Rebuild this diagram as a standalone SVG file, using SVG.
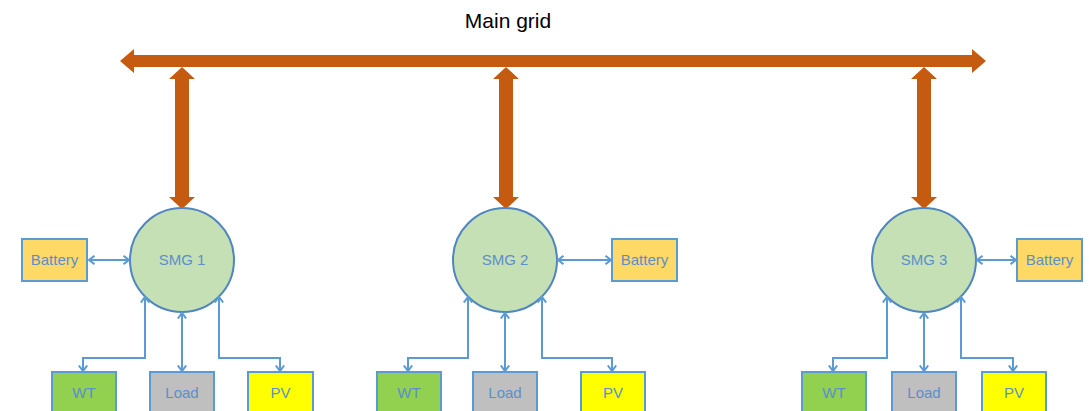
<svg xmlns="http://www.w3.org/2000/svg" width="1089" height="411" viewBox="0 0 1089 411">
<defs>
<marker id="ah" markerWidth="8" markerHeight="10" refX="6" refY="5" orient="auto-start-reverse" markerUnits="userSpaceOnUse">
<path d="M0.5,0.8 L6,5 L0.5,9.2" fill="none" stroke="#5B9BD5" stroke-width="2"/>
</marker>
</defs>
<style>
.grid{fill:#C55A11;}
.smg{fill:#C5E0B4;stroke:#4F86C0;stroke-width:2;}
.box{stroke:#5B9BD5;stroke-width:2;}
.bat{fill:#FFD966;}
.wt{fill:#92D050;}
.load{fill:#BFBFBF;}
.pv{fill:#FFFF00;}
.lbl{font-family:"Liberation Sans",Arial,sans-serif;font-size:15px;fill:#5B8FCA;text-anchor:middle;}
.title{font-family:"Liberation Sans",Arial,sans-serif;font-size:21px;fill:#000;text-anchor:middle;}
.con{fill:none;stroke:#5B9BD5;stroke-width:2;marker-start:url(#ah);marker-end:url(#ah);}
</style>
<rect width="1089" height="411" fill="#fff"/>
<text class="title" x="508" y="28">Main grid</text>
<g id="main-grid">
<polygon class="grid" points="120,61 134,49 134,55 972,55 972,49 986,61 972,73 972,67 134,67 134,73"/>
</g>
<g id="grid-links">
<polygon class="grid" points="182,67 195,79 189,79 189,197 195,197 182,209 169,197 175,197 175,79 169,79"/>
<polygon class="grid" points="506,67 519,79 513,79 513,197 519,197 506,209 493,197 499,197 499,79 493,79"/>
<polygon class="grid" points="924,67 937,79 931,79 931,197 937,197 924,209 911,197 917,197 917,79 911,79"/>
</g>
<g id="smg1">
<circle class="smg" cx="182" cy="260" r="52"/>
<text class="lbl" x="182" y="265">SMG 1</text>
</g>
<g id="smg2">
<circle class="smg" cx="505" cy="260" r="52"/>
<text class="lbl" x="505" y="265">SMG 2</text>
</g>
<g id="smg3">
<circle class="smg" cx="924" cy="260" r="52"/>
<text class="lbl" x="924" y="265">SMG 3</text>
</g>
<g id="battery1"><rect class="box bat" x="22" y="239" width="65" height="42"/><text class="lbl" x="54.5" y="265">Battery</text></g>
<g id="battery2"><rect class="box bat" x="612" y="239" width="65" height="42"/><text class="lbl" x="644.5" y="265">Battery</text></g>
<g id="battery3"><rect class="box bat" x="1017" y="239" width="65" height="42"/><text class="lbl" x="1049.5" y="265">Battery</text></g>
<g id="wt1"><rect class="box wt" x="52" y="372" width="64" height="44"/><text class="lbl" x="84" y="398">WT</text></g>
<g id="load1"><rect class="box load" x="150" y="372" width="64" height="44"/><text class="lbl" x="182" y="398">Load</text></g>
<g id="pv1"><rect class="box pv" x="248" y="372" width="65" height="44"/><text class="lbl" x="280.5" y="398">PV</text></g>
<g id="wt2"><rect class="box wt" x="377" y="372" width="64" height="44"/><text class="lbl" x="409" y="398">WT</text></g>
<g id="load2"><rect class="box load" x="473" y="372" width="64" height="44"/><text class="lbl" x="505" y="398">Load</text></g>
<g id="pv2"><rect class="box pv" x="581" y="372" width="64" height="44"/><text class="lbl" x="613" y="398">PV</text></g>
<g id="wt3"><rect class="box wt" x="802" y="372" width="64" height="44"/><text class="lbl" x="834" y="398">WT</text></g>
<g id="load3"><rect class="box load" x="892" y="372" width="64" height="44"/><text class="lbl" x="924" y="398">Load</text></g>
<g id="pv3"><rect class="box pv" x="982" y="372" width="64" height="44"/><text class="lbl" x="1014" y="398">PV</text></g>
<g id="connectors">
<path class="con" d="M89,260 H129"/>
<path class="con" d="M145,297 V358 H83 V371"/>
<path class="con" d="M182,313 V371"/>
<path class="con" d="M219,297 V358 H280 V371"/>
<path class="con" d="M558,260 H611"/>
<path class="con" d="M468,297 V358 H408 V371"/>
<path class="con" d="M505,313 V371"/>
<path class="con" d="M542,297 V358 H612 V371"/>
<path class="con" d="M977,260 H1016"/>
<path class="con" d="M887,297 V358 H833 V371"/>
<path class="con" d="M924,313 V371"/>
<path class="con" d="M961,297 V358 H1013 V371"/>
</g>
</svg>
